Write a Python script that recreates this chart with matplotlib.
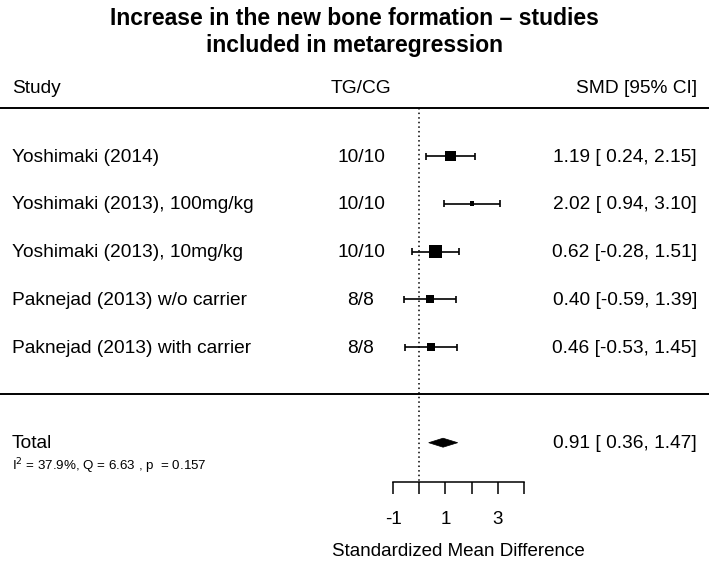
import matplotlib
matplotlib.use("Agg")
import matplotlib.pyplot as plt
from matplotlib.patches import Polygon
from matplotlib.transforms import blended_transform_factory

plt.rcParams['font.family'] = ['Liberation Sans', 'DejaVu Sans']

studies = ["Yoshimaki (2014)", "Yoshimaki (2013), 100mg/kg", "Yoshimaki (2013), 10mg/kg",
           "Paknejad (2013) w/o carrier", "Paknejad (2013) with carrier"]
tgcg = ["10/10", "10/10", "10/10", "8/8", "8/8"]
smd = [1.19, 2.02, 0.62, 0.40, 0.46]
lo = [0.24, 0.94, -0.28, -0.59, -0.53]
hi = [2.15, 3.10, 1.51, 1.39, 1.45]
box_px = [10.3, 4.5, 13.0, 8.3, 8.3]   # square side in pixels (weights)
total = (0.91, 0.36, 1.47)
het_text = "= 37.9%, Q = 6.63 , p  = 0.157"
ticks = [-1, 0, 1, 2, 3, 4]
ticklabels = ["-1", "", "1", "", "3", ""]

W, H, DPI = 709, 561, 100
fig = plt.figure(figsize=(W / DPI, H / DPI), dpi=DPI)
ax = fig.add_axes([0, 0, 1, 1])

x0_px, unit_px = 419.3, 26.1
ax.set_xlim(-x0_px / unit_px, (W - x0_px) / unit_px)
ax.set_ylim(H, 0)

fs = 13.8
dy = 1.0  # small text offset

for s in ['top', 'left', 'right']:
    ax.spines[s].set_visible(False)
ax.spines['bottom'].set_position(('data', 481.5))
ax.spines['bottom'].set_bounds(-1, 4)
ax.spines['bottom'].set_linewidth(1.1)
ax.set_yticks([])
ax.set_xticks(ticks)
ax.set_xticklabels(ticklabels)
ax.tick_params(axis='x', direction='out', length=8.5, width=1.1, pad=13, labelsize=13.5)
ax.patch.set_visible(False)

tr = blended_transform_factory(fig.transFigure, ax.transData)

row_y = [156, 203.5, 251.5, 299, 347.3]

# title
ax.text(0.5, 18, "Increase in the new bone formation \u2013 studies", transform=tr,
        ha='center', va='center', fontsize=16.5, fontweight='bold')
ax.text(0.5, 45, "included in metaregression", transform=tr,
        ha='center', va='center', fontsize=16.5, fontweight='bold')

# headers
ax.text(12 / W, 87 + dy, "Study", transform=tr, ha='left', va='center', fontsize=fs)
ax.text(361 / W, 87 + dy, "TG/CG", transform=tr, ha='center', va='center', fontsize=fs)
ax.text(697 / W, 87 + dy, "SMD [95% CI]", transform=tr, ha='right', va='center', fontsize=fs)

# separators
ax.plot([0, 1], [107.5, 107.5], transform=tr, color='black', lw=1.4, clip_on=False)
ax.plot([0, 1], [394, 394], transform=tr, color='black', lw=1.4, clip_on=False)

# null line
ax.vlines(0, 107.5, 481.5, colors='black', linestyles=(0, (1, 2)), lw=1.1)

for i, y in enumerate(row_y):
    ax.text(12 / W, y + dy, studies[i], transform=tr, ha='left', va='center', fontsize=fs)
    ax.text(361 / W, y + dy, tgcg[i], transform=tr, ha='center', va='center', fontsize=fs)
    ax.text(697 / W, y + dy, f"{smd[i]:.2f} [{lo[i]:5.2f}, {hi[i]:.2f}]",
            transform=tr, ha='right', va='center', fontsize=fs)
    ax.hlines(y, lo[i], hi[i], colors='black', lw=1.2)
    ax.vlines([lo[i], hi[i]], y - 3.5, y + 3.5, colors='black', lw=1.2)
    half_x = box_px[i] / 2 / unit_px
    half_y = box_px[i] / 2
    sq = Polygon([(smd[i] - half_x, y - half_y), (smd[i] + half_x, y - half_y),
                  (smd[i] + half_x, y + half_y), (smd[i] - half_x, y + half_y)],
                 closed=True, facecolor='black', edgecolor='black', lw=0)
    ax.add_patch(sq)

# total
ty = 442.7
ax.text(12 / W, ty + dy, "Total", transform=tr, ha='left', va='center', fontsize=fs)
ax.text(697 / W, ty + dy, f"{total[0]:.2f} [{total[1]:5.2f}, {total[2]:.2f}]",
        transform=tr, ha='right', va='center', fontsize=fs)
dia = Polygon([(total[1], ty), (total[0], ty - 4.5), (total[2], ty), (total[0], ty + 4.5)],
              closed=True, facecolor='black', edgecolor='black', lw=0.5)
ax.add_patch(dia)
ax.text(12 / W, 466, r"I$^{2}$ " + het_text, transform=tr, ha='left', va='center', fontsize=9.6)

# x label
ax.text(1.5, 551, "Standardized Mean Difference", ha='center', va='center', fontsize=13.5)

fig.savefig("out.png", dpi=DPI)
